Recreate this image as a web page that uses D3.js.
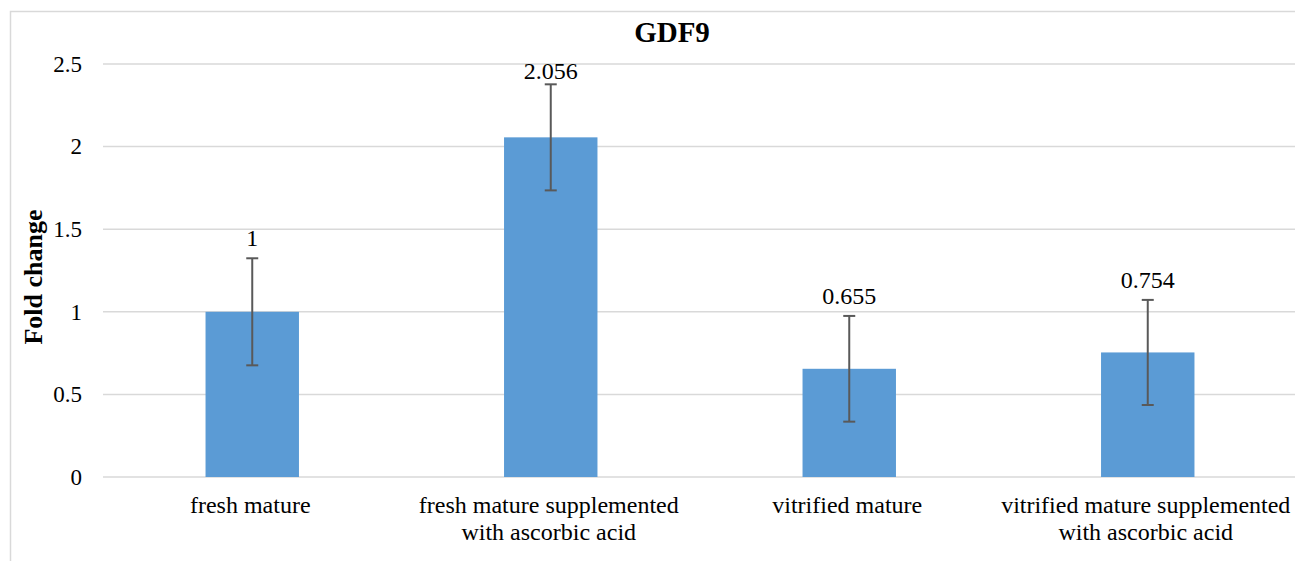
<!DOCTYPE html>
<html>
<head>
<meta charset="utf-8">
<script src="https://cdn.jsdelivr.net/npm/d3@7"></script>
<style>
  body { margin: 0; background: #fff; }
  svg text { font-family: "Liberation Serif", "Times New Roman", serif; fill: #000; }
</style>
</head>
<body>
<div class="container"></div>
<script>
var categories = [
  ["fresh mature"],
  ["fresh mature supplemented", "with ascorbic acid"],
  ["vitrified mature"],
  ["vitrified mature supplemented", "with ascorbic acid"]
];
var values = [1, 2.056, 0.655, 0.754];
var labels = ["1", "2.056", "0.655", "0.754"];
var errors = [0.324, 0.321, 0.32, 0.318];
var yTicks = [0, 0.5, 1, 1.5, 2, 2.5];

var width = 1295, height = 561;
var svg = d3.select('.container').append('svg')
  .attr("width", width)
  .attr("height", height)
  .attr("font-family", "'Liberation Serif', serif");

// chart border
svg.append('rect')
  .attr("x", 10.5).attr("y", 11.5)
  .attr("width", 1400).attr("height", 600)
  .attr("fill", "none")
  .attr("stroke", "#d9d9d9")
  .attr("stroke-width", 1.5);

var x = d3.scaleBand()
  .domain(d3.range(categories.length))
  .range([103, 1297])
  .paddingInner(0.687)
  .paddingOuter(0.3435);

var y = d3.scaleLinear().domain([0, 2.5]).range([477, 64]);

// gridlines
svg.append('g').selectAll('line')
  .data(yTicks).enter()
  .append('line')
  .attr("x1", 103).attr("x2", 1297)
  .attr("y1", function(d){return y(d);})
  .attr("y2", function(d){return y(d);})
  .attr("stroke", "#d9d9d9")
  .attr("stroke-width", 1.5);

// y axis labels
var yAxis = d3.axisLeft(y).tickValues(yTicks).tickSize(0).tickPadding(0)
  .tickFormat(function(d){return String(d);});
var ya = svg.append('g').attr("transform", "translate(82,0)").call(yAxis)
  .attr("font-family", "'Liberation Serif', serif")
  .attr("font-size", 23);
ya.select('.domain').remove();
ya.selectAll('text').attr("fill", "#000");

// bars
svg.append('g').selectAll('rect')
  .data(values).enter()
  .append('rect')
  .attr("x", function(d,i){return x(i);})
  .attr("y", function(d){return y(d);})
  .attr("width", x.bandwidth())
  .attr("height", function(d){return y(0) - y(d);})
  .attr("fill", "#5b9bd5");

// error bars
var eb = svg.append('g').selectAll('g')
  .data(values).enter()
  .append('g')
  .attr("stroke", "#595959")
  .attr("stroke-width", 2);
eb.append('line')
  .attr("x1", function(d,i){return x(i) + x.bandwidth()/2;})
  .attr("x2", function(d,i){return x(i) + x.bandwidth()/2;})
  .attr("y1", function(d,i){return y(d + errors[i]);})
  .attr("y2", function(d,i){return y(d - errors[i]);});
eb.append('line')
  .attr("x1", function(d,i){return x(i) + x.bandwidth()/2 - 6;})
  .attr("x2", function(d,i){return x(i) + x.bandwidth()/2 + 6;})
  .attr("y1", function(d,i){return y(d + errors[i]);})
  .attr("y2", function(d,i){return y(d + errors[i]);});
eb.append('line')
  .attr("x1", function(d,i){return x(i) + x.bandwidth()/2 - 6;})
  .attr("x2", function(d,i){return x(i) + x.bandwidth()/2 + 6;})
  .attr("y1", function(d,i){return y(d - errors[i]);})
  .attr("y2", function(d,i){return y(d - errors[i]);});

// value labels
svg.append('g').selectAll('text')
  .data(values).enter()
  .append('text')
  .attr("x", function(d,i){return x(i) + x.bandwidth()/2;})
  .attr("y", function(d,i){return Math.max(y(d + errors[i]) - 12, y(2.5) + 15);})
  .attr("text-anchor", "middle")
  .style("font-size", "24px")
  .text(function(d,i){return labels[i];});

// category labels
var cl = svg.append('g').selectAll('text')
  .data(categories).enter()
  .append('text')
  .attr("text-anchor", "middle")
  .style("font-size", "24px")
  .attr("transform", function(d,i){return "translate(" + (x(i) + x.bandwidth()/2 - 2) + ",513)";});
cl.selectAll('tspan')
  .data(function(d){return d;}).enter()
  .append('tspan')
  .attr("x", 0)
  .attr("y", function(d,j){return j*27;})
  .text(function(d){return d;});

// title
svg.append('text')
  .attr("x", 672).attr("y", 42)
  .attr("text-anchor", "middle")
  .style("font-size", "29px")
  .style("font-weight", "bold")
  .text("GDF9");

// y axis title
svg.append('text')
  .attr("transform", "translate(42,277) rotate(-90)")
  .attr("text-anchor", "middle")
  .style("font-size", "26px")
  .style("font-weight", "bold")
  .text("Fold change");
</script>
</body>
</html>
